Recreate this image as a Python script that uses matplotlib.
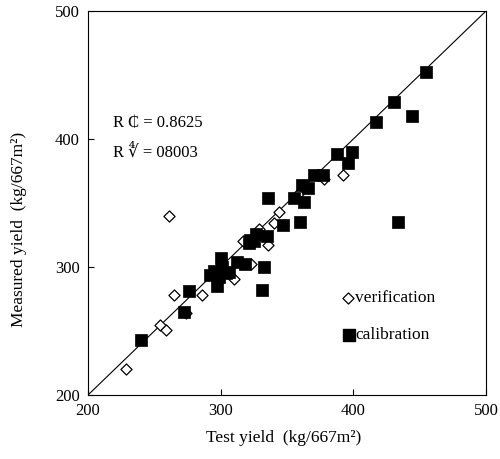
import matplotlib
matplotlib.use("Agg")
import matplotlib.pyplot as plt

plt.rcParams['font.family'] = ['Liberation Serif', 'DejaVu Serif', 'DejaVu Sans']

# Calibration points (filled squares)
cal_x = [455, 431, 444, 417, 399, 388, 396, 370, 377, 361, 366, 355, 336, 363, 360, 347, 434,
         327, 335, 322, 321, 325, 312, 318, 333, 331, 300, 292, 299, 304, 297, 295, 301, 306,
         276, 272, 240]
cal_y = [452, 429, 418, 413, 390, 388, 381, 372, 372, 364, 362, 354, 354, 351, 335, 333, 335,
         326, 324, 321, 319, 320, 304, 302, 300, 282, 307, 294, 292, 295, 285, 297, 300, 296,
         281, 265, 243]

# Verification points (open diamonds)
ver_x = [229, 254, 259, 265, 286, 274, 261, 310, 323, 317, 336, 340, 344, 329, 358, 378, 392]
ver_y = [220, 255, 251, 278, 278, 264, 340, 291, 302, 320, 317, 334, 343, 330, 357, 369, 372]

ticks = [200, 300, 400, 500]
r2_cal = "R \u20b5 = 0.8625"
r2_ver = "R \u221c = 08003"

fig = plt.figure(figsize=(5.0, 4.59), dpi=100)
ax = fig.add_axes([0.176, 0.1394, 0.796, 0.8366])

ax.plot([200, 500], [200, 500], color='black', lw=0.8, zorder=1)
ax.scatter(ver_x, ver_y, marker='D', s=32, facecolors='white', edgecolors='black',
           linewidths=0.9, zorder=2)
ax.scatter(cal_x, cal_y, marker='s', s=85, facecolors='black', edgecolors='black',
           linewidths=0.5, zorder=3)

ax.set_xlim(200, 500)
ax.set_ylim(200, 500)
ax.set_xticks(ticks)
ax.set_yticks(ticks)
ax.tick_params(direction='in', length=4, width=0.8, labelsize=12, pad=6)
for s in ax.spines.values():
    s.set_linewidth(0.8)

ax.set_xlabel('Test yield  (kg/667m\u00b2)', fontsize=12.5)
ax.set_ylabel('Measured yield  (kg/667m\u00b2)', fontsize=12.5)
ax.xaxis.set_label_coords(0.491, -0.091)
ax.yaxis.set_label_coords(-0.153, 0.432)

ax.text(0.063, 0.708, r2_cal, transform=ax.transAxes, fontsize=12, va='center', ha='left')
ax.text(0.063, 0.630, r2_ver, transform=ax.transAxes, fontsize=12, va='center', ha='left')

# Legend drawn manually to mimic original layout
ax.scatter([0.654], [0.253], marker='D', s=32, facecolors='white', edgecolors='black',
           linewidths=0.9, transform=ax.transAxes, clip_on=False, zorder=4)
ax.text(0.672, 0.253, 'verification', transform=ax.transAxes, fontsize=12.5, va='center', ha='left')
ax.scatter([0.657], [0.156], marker='s', s=80, facecolors='black', edgecolors='black',
           transform=ax.transAxes, clip_on=False, zorder=4)
ax.text(0.672, 0.156, 'calibration', transform=ax.transAxes, fontsize=12.5, va='center', ha='left')

fig.savefig('out.png', dpi=100)
